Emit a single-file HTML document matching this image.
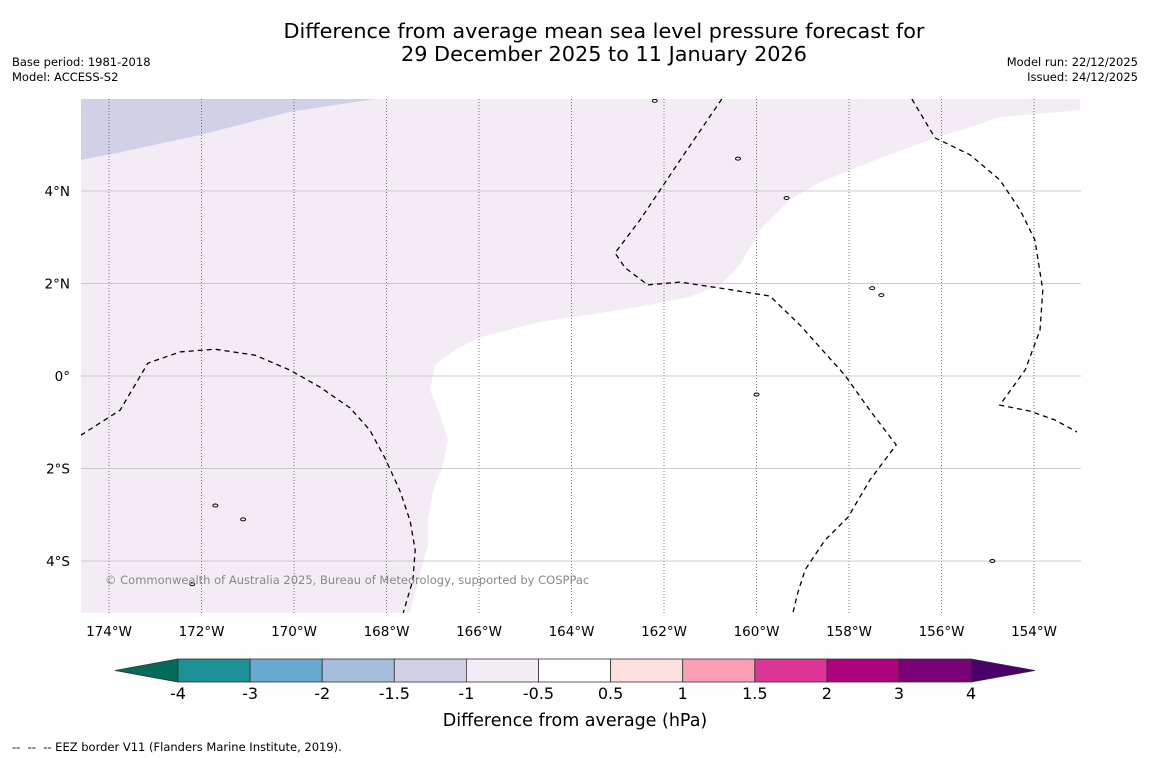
<!DOCTYPE html>
<html><head><meta charset="utf-8">
<style>
body{margin:0;background:#fefefe;width:1150px;height:758px;overflow:hidden;font-family:"DejaVu Sans","Liberation Sans",sans-serif;}
svg{display:block}
</style></head>
<body>
<svg id="chart" width="1150" height="758" viewBox="0 0 1150 758" xmlns="http://www.w3.org/2000/svg">
<rect width="1150" height="758" fill="#fefefe"/>
<text x="604" y="38" font-size="20.8" text-anchor="middle" fill="#000">Difference from average mean sea level pressure forecast for</text>
<text x="604" y="61" font-size="20.8" text-anchor="middle" fill="#000">29 December 2025 to 11 January 2026</text>
<text x="12" y="66" font-size="11.5">Base period: 1981-2018</text>
<text x="12" y="81" font-size="11.5">Model: ACCESS-S2</text>
<text x="1138" y="66" font-size="11.5" text-anchor="end">Model run: 22/12/2025</text>
<text x="1138" y="81" font-size="11.5" text-anchor="end">Issued: 24/12/2025</text>
<g id="map"></g>
<g id="cbar"></g>
<text x="575" y="726" font-size="17.5" text-anchor="middle">Difference from average (hPa)</text>
<text x="12" y="751" font-size="11.5" xml:space="preserve" style="white-space:pre">--  --  -- EEZ border V11 (Flanders Marine Institute, 2019).</text>
</svg>
<script>
// axis / data arrays
const lonTicks = [-174,-172,-170,-168,-166,-164,-162,-160,-158,-156,-154];
const latTicks = [4,2,0,-2,-4];
const lonLabels = ["174°W","172°W","170°W","168°W","166°W","164°W","162°W","160°W","158°W","156°W","154°W"];
const latLabels = ["4°N","2°N","0°","2°S","4°S"];
const cbLevels = [-4,-3,-2,-1.5,-1,-0.5,0.5,1,1.5,2,3,4];
const cbLabels = ["-4","-3","-2","-1.5","-1","-0.5","0.5","1","1.5","2","3","4"];
const cbColors = ["#1b9096","#67a9cf","#a6bddb","#d0d1e6","#f3ecf5","#ffffff","#fde0dd","#fa9fb5","#dd3497","#ae017e","#7a0177"];
const cbUnder = "#016c59", cbOver = "#49006a";
const lightRegion = [[-153.0,5.75],[-154.74,5.60],[-155.38,5.38],[-156.14,5.15],[-157.33,4.71],[-158.63,4.19],[-159.28,3.81],[-159.92,3.16],[-160.36,2.40],[-160.79,1.97],[-161.44,1.71],[-162.30,1.54],[-163.38,1.36],[-164.68,1.17],[-165.98,0.84],[-166.52,0.56],[-166.95,0.24],[-167.06,-0.30],[-166.84,-0.84],[-166.67,-1.38],[-166.78,-1.92],[-166.99,-2.46],[-167.10,-3.11],[-167.10,-3.65],[-167.28,-4.30],[-167.49,-5.12],[-174.61,-5.12],[-174.61,5.99],[-153.0,5.99]];
const darkRegion = [[-174.61,5.99],[-168.25,5.99],[-170.09,5.71],[-172.03,5.21],[-173.76,4.84],[-174.61,4.67]];
const eezA = [[-174.61,-1.28],[-173.76,-0.74],[-173.16,0.28],[-172.46,0.52],[-171.71,0.58],[-170.84,0.45],[-170.09,0.13],[-169.44,-0.24],[-168.79,-0.69],[-168.36,-1.17],[-168.03,-1.78],[-167.71,-2.48],[-167.49,-3.13],[-167.38,-3.76],[-167.43,-4.41],[-167.64,-5.12]];
const eezB = [[-160.75,5.99],[-161.65,4.67],[-162.52,3.37],[-163.06,2.66],[-162.84,2.34],[-162.35,1.97],[-161.65,2.03],[-160.79,1.90],[-159.71,1.73],[-159.06,1.10],[-158.09,0.02],[-157.55,-0.74],[-156.98,-1.49],[-157.55,-2.25],[-158.02,-3.05],[-158.52,-3.55],[-158.95,-4.19],[-159.12,-4.73],[-159.21,-5.12]];
const eezC = [[-156.64,5.99],[-156.14,5.15],[-155.38,4.78],[-154.74,4.24],[-154.30,3.59],[-153.98,2.94],[-153.81,1.86],[-153.87,0.99],[-154.19,0.13],[-154.74,-0.63],[-154.09,-0.76],[-153.55,-0.95],[-153.07,-1.21]];
const islands = [[-171.7,-2.8],[-171.1,-3.1],[-172.2,-4.5],[-157.5,1.9],[-157.3,1.75],[-159.35,3.85],[-160.4,4.7],[-162.2,5.95],[-154.9,-4.0],[-160.0,-0.4]];

const NS="http://www.w3.org/2000/svg";
const X0=81,X1=1081,Y0=99,Y1=613;
function xs(lon){return 109+(lon+174)*46.25;}
function ys(lat){return 376-lat*46.25;}
function mk(tag,attrs,parent){const e=document.createElementNS(NS,tag);for(const k in attrs)e.setAttribute(k,attrs[k]);parent.appendChild(e);return e;}
const map=document.getElementById('map');
const defs=mk('defs',{},map);
const cp=mk('clipPath',{id:'clip'},defs);
mk('rect',{x:X0,y:Y0,width:X1-X0,height:Y1-Y0},cp);
const g=mk('g',{'clip-path':'url(#clip)'},map);
mk('rect',{x:X0,y:Y0,width:X1-X0,height:Y1-Y0,fill:'#ffffff'},g);
function pts(a){return a.map(p=>xs(p[0]).toFixed(1)+','+ys(p[1]).toFixed(1)).join(' ');}
let e;
e=mk('polygon',{points:pts(lightRegion),fill:'#f3ecf5'},g);


e=mk('polygon',{points:pts(darkRegion),fill:'#d0d1e6'},g);


lonTicks.forEach((lon,i)=>{
  e=mk('line',{x1:xs(lon),x2:xs(lon),y1:Y0,y2:Y1,stroke:'#555','stroke-width':0.8,'stroke-dasharray':'1,2'},g);
  
  
  e=mk('text',{x:xs(lon),y:636,'font-size':13.5,'text-anchor':'middle'},map);
  e.textContent=lonLabels[i];
  
  
});
latTicks.forEach((lat,i)=>{
  e=mk('line',{x1:X0,x2:X1,y1:ys(lat),y2:ys(lat),stroke:'#bbb','stroke-width':0.8},g);
  
  
  e=mk('text',{x:70,y:ys(lat)+5,'font-size':13.5,'text-anchor':'end'},map);
  e.textContent=latLabels[i];
  
  
});
[eezA,eezB,eezC].forEach(a=>{
  e=mk('polyline',{points:pts(a),fill:'none',stroke:'#000','stroke-width':1.3,'stroke-dasharray':'5,4'},g);
  
  
});
islands.forEach(p=>{
  e=mk('ellipse',{cx:xs(p[0]),cy:ys(p[1]),rx:2.5,ry:1.5,fill:'none',stroke:'#000','stroke-width':1},g);
  
  
});
e=mk('text',{x:105,y:584,'font-size':11.5,fill:'#888'},map);
e.textContent='© Commonwealth of Australia 2025, Bureau of Meteorology, supported by COSPPac';



// colorbar
const cb=document.getElementById('cbar');
const CB0=178,CBW=72.1,CY0=659,CY1=682,n=cbColors.length;
function cbx(i){return CB0+i*CBW;}
e=mk('polygon',{points:`${cbx(0)},${CY0} 115,670.5 ${cbx(0)},${CY1}`,fill:cbUnder,stroke:'#333','stroke-width':0.8},cb);


e=mk('polygon',{points:`${cbx(n)},${CY0} 1035,670.5 ${cbx(n)},${CY1}`,fill:cbOver,stroke:'#333','stroke-width':0.8},cb);


cbColors.forEach((c,i)=>{
  e=mk('rect',{x:cbx(i),y:CY0,width:CBW,height:CY1-CY0,fill:c,stroke:'#333','stroke-width':0.8},cb);
  
  
});
cbLevels.forEach((v,i)=>{
  e=mk('text',{x:cbx(i),y:699,'font-size':16,'text-anchor':'middle'},cb);
  e.textContent=cbLabels[i];
  
  
});
</script>
</body></html>
